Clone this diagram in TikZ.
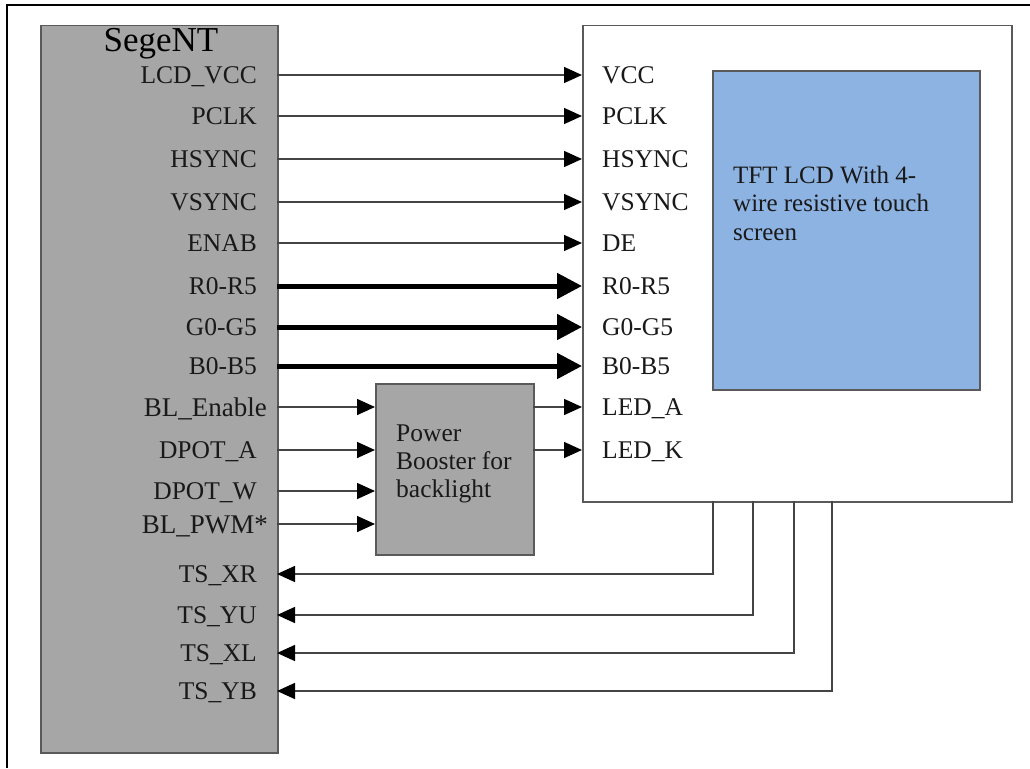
\documentclass[tikz,border=0pt]{standalone}
\usepackage{fontspec}
\setmainfont{Liberation Serif}
\usetikzlibrary{arrows.meta}
\definecolor{boxgray}{HTML}{A6A6A6}
\definecolor{edgegray}{HTML}{5A5A5A}
\definecolor{linegray}{HTML}{444444}
\definecolor{lcdblue}{HTML}{8DB3E2}
\begin{document}
\begin{tikzpicture}[x=1pt,y=-1pt,
  lbl/.style={font=\fontsize{25.5}{28}\selectfont, inner sep=0pt, text=black!90},
  biglbl/.style={font=\fontsize{27}{30}\selectfont, inner sep=0pt, text=black!90},
  thinarrow/.style={draw=linegray, line width=1.5pt, -{Triangle[length=18pt,width=16pt,color=black]}},
  thickarrow/.style={draw=black, line width=5pt, -{Triangle[length=25pt,width=25pt]}},
  block/.style={draw=edgegray, line width=1.5pt, inner sep=0pt, anchor=north west}]
\useasboundingbox (0,0) rectangle (1030,768);
\fill[white] (0,0) rectangle (1030,768);
% outer frame (top and left only)
\draw[black, line width=2.5pt] (7,768) -- (7,5) -- (1030,5);
% blocks
\node[block, fill=boxgray, minimum width=237pt, minimum height=727pt] (seg) at (40,25) {};
\node[block, fill=white, minimum width=429pt, minimum height=476pt] (lcd) at (582,25) {};
\node[block, fill=lcdblue, minimum width=267pt, minimum height=319pt] (tft) at (712,70) {};
\node[block, fill=boxgray, minimum width=158pt, minimum height=171pt] (boost) at (375,383) {};
% titles
\node[font=\fontsize{35}{40}\selectfont, inner sep=0pt, anchor=base] (segname) at (161,52) {SegeNT};
\node[lbl, anchor=base west, align=left, font=\fontsize{25}{28.5}\selectfont] (tfttext) at (733,240)
  {TFT LCD With 4-\\wire resistive touch\\screen};
\node[lbl, anchor=base west, align=left, font=\fontsize{25.5}{28}\selectfont] (boosttext) at (396,497)
  {Power\\Booster for\\backlight};
% left labels
\foreach \t/\y [count=\i] in {LCD\_VCC/75, PCLK/116, HSYNC/159, VSYNC/202, ENAB/243,
  R0-R5/286, G0-G5/327, B0-B5/366, DPOT\_A/450, DPOT\_W/491,
  TS\_XR/574, TS\_YU/615, TS\_XL/653, TS\_YB/691}
  \node[lbl, anchor=base east] (sl\i) at (257,\y+8.3) {\t};
\node[biglbl, anchor=base east] (slbe) at (267,407+9) {BL\_Enable};
\node[biglbl, anchor=base east] (slpwm) at (268,524+9) {BL\_PWM*};
% right labels
\foreach \t/\y [count=\i] in {VCC/75, PCLK/116, HSYNC/159, VSYNC/202, DE/243,
  R0-R5/286, G0-G5/327, B0-B5/366, LED\_A/407, LED\_K/450}
  \node[lbl, anchor=base west] (rl\i) at (602,\y+8.3) {\t};
% connector end points
\foreach \y [count=\i] in {75,116,159,202,243,286,327,366} {
  \coordinate (sa\i) at (277,\y);
  \coordinate (la\i) at (582,\y);
}
\foreach \i in {1,...,5} \draw[thinarrow] (sa\i) -- (la\i);
\foreach \i in {6,7,8} \draw[thickarrow] (sa\i) -- (la\i);
% backlight inputs
\foreach \y [count=\i] in {407,450,491,524} {
  \coordinate (bi\i) at (277,\y);
  \coordinate (bb\i) at (375,\y);
  \draw[thinarrow] (bi\i) -- (bb\i);
}
% backlight outputs
\foreach \y [count=\i] in {407,450} {
  \coordinate (bo\i) at (533,\y);
  \coordinate (lo\i) at (582,\y);
  \draw[thinarrow] (bo\i) -- (lo\i);
}
% touch screen returns
\foreach \x/\y [count=\i] in {713/574, 753/615, 794/653, 832/691} {
  \coordinate (ts\i) at (\x,501);
  \coordinate (tt\i) at (277,\y);
  \draw[thinarrow] (ts\i) |- (tt\i);
}
\end{tikzpicture}
\end{document}
